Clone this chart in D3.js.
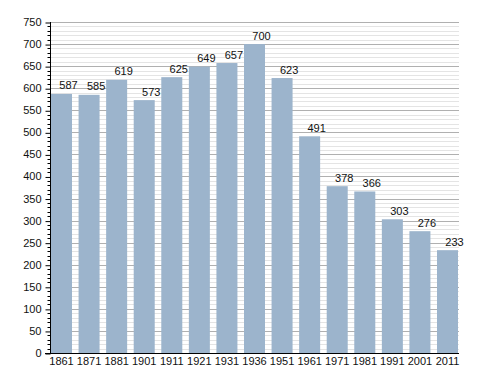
<!DOCTYPE html>
<html>
<head>
<meta charset="utf-8">
<script src="https://cdn.jsdelivr.net/npm/d3@7"></script>
<style>
body { margin: 0; background: #fff; }
text { font-family: "Liberation Sans", Arial, sans-serif; font-size: 11px; fill: #111; }
</style>
</head>
<body>
<div id="vis"></div>
<script>
var years = ["1861", "1871", "1881", "1901", "1911", "1921", "1931", "1936", "1951", "1961", "1971", "1981", "1991", "2001", "2011"];
var population = [587, 585, 619, 573, 625, 649, 657, 700, 623, 491, 378, 366, 303, 276, 233];
var yTicks = [0, 50, 100, 150, 200, 250, 300, 350, 400, 450, 500, 550, 600, 650, 700, 750];

var width = 488, height = 373;
var plot = {left: 50, right: 459, top: 22, bottom: 353};

var svg = d3.select("#vis").append("svg")
  .attr("width", width)
  .attr("height", height);

var yScale = d3.scaleLinear().domain([0, 750]).range([plot.bottom, plot.top]);
var xScale = d3.scaleBand().domain(years).range([plot.left + 1, plot.right - 1]).paddingInner(0.238).paddingOuter(0);

// minor grid every 10
var minor = d3.range(0, 751, 10).filter(function(d) { return d % 50 != 0; });
svg.append("g").selectAll("line").data(minor).enter().append("line")
  .attr("x1", plot.left).attr("x2", plot.right)
  .attr("y1", function(d) { return Math.round(yScale(d)) + 0.5; })
  .attr("y2", function(d) { return Math.round(yScale(d)) + 0.5; })
  .style("stroke", "#e4e4e4").style("stroke-width", 1);

// major grid
svg.append("g").selectAll("line").data(yTicks.slice(1)).enter().append("line")
  .attr("x1", plot.left).attr("x2", plot.right)
  .attr("y1", function(d) { return Math.round(yScale(d)) + 0.5; })
  .attr("y2", function(d) { return Math.round(yScale(d)) + 0.5; })
  .style("stroke", "#b0b0b0").style("stroke-width", 1);

// bars
svg.append("g").selectAll("rect").data(population).enter().append("rect")
  .attr("x", function(d, i) { return xScale(years[i]); })
  .attr("width", xScale.bandwidth())
  .attr("y", function(d) { return yScale(d); })
  .attr("height", function(d) { return plot.bottom - yScale(d); })
  .style("fill", "#9cb4cc");

// value labels (sit a little right of bar centre, as in the original)
svg.append("g").selectAll("text").data(population).enter().append("text")
  .attr("x", function(d, i) { return xScale(years[i]) + xScale.bandwidth() / 2 + 7; })
  .attr("y", function(d) { return yScale(d) - 4.5; })
  .attr("text-anchor", "middle")
  .text(function(d) { return d; });

// y axis with minor ticks
var yAxis = svg.append("g").attr("transform", "translate(" + (plot.left + 0.5) + ",0)");
yAxis.call(d3.axisLeft(yScale).tickValues(yTicks).tickSize(5).tickPadding(4));
yAxis.selectAll(".tick line").attr("y1", 0.5).attr("y2", 0.5);
yAxis.select(".domain").remove();
yAxis.selectAll("text").style("font-size", "11px").style("font-family", "Liberation Sans, Arial, sans-serif").attr("fill", "#111");
yAxis.selectAll(".minor").data(minor).enter().append("line")
  .attr("class", "minor")
  .attr("x1", -3).attr("x2", 0)
  .attr("y1", function(d) { return Math.round(yScale(d)) + 0.5; })
  .attr("y2", function(d) { return Math.round(yScale(d)) + 0.5; })
  .style("stroke", "#000");
yAxis.append("line").attr("x1", 0).attr("x2", 0).attr("y1", plot.top).attr("y2", plot.bottom + 1).style("stroke", "#000");

// x axis
var xAxis = svg.append("g").attr("transform", "translate(0," + (plot.bottom + 0.5) + ")");
xAxis.call(d3.axisBottom(xScale).tickSize(0).tickPadding(4));
xAxis.select(".domain").remove();
xAxis.selectAll("text").style("font-size", "11px").style("font-family", "Liberation Sans, Arial, sans-serif").attr("fill", "#111");
xAxis.append("line").attr("x1", plot.left - 5).attr("x2", plot.right).attr("y1", 0).attr("y2", 0).style("stroke", "#000");
</script>
</body>
</html>
